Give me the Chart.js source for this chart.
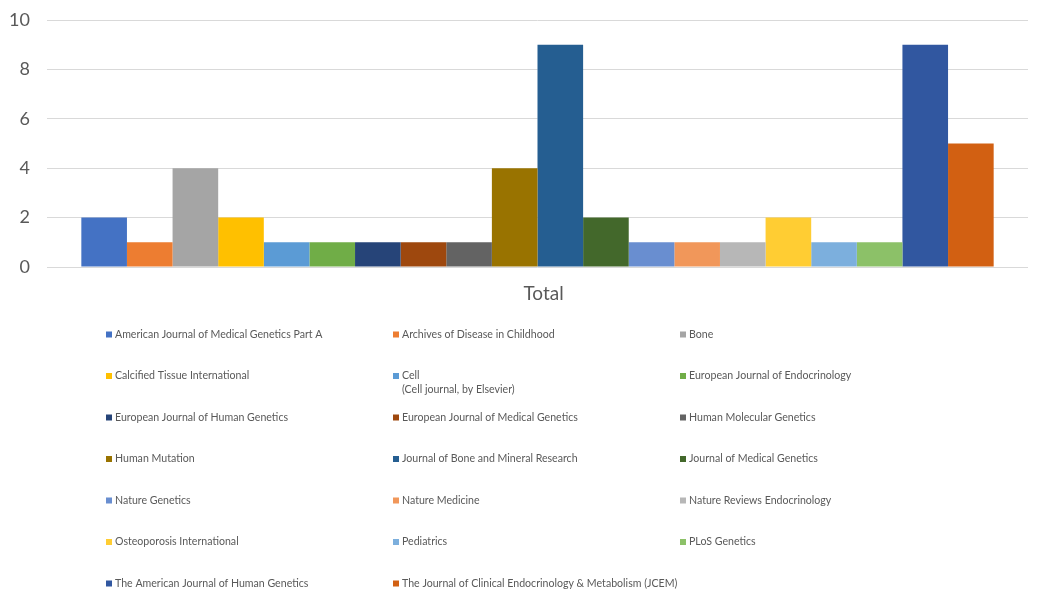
<!DOCTYPE html>
<html>
<head>
<meta charset="utf-8">
<script src="https://cdn.jsdelivr.net/npm/chart.js@4/dist/chart.umd.min.js"></script>
<style>
html,body{margin:0;padding:0;background:#fff;}
#wrap{position:relative;width:1057px;height:595px;}
</style>
</head>
<body>
<div id="wrap"><canvas id="c"></canvas></div>
<script>
const categories = ["Total"];
const journals = [
  "American Journal of Medical Genetics Part A",
  "Archives of Disease in Childhood",
  "Bone",
  "Calcified Tissue International",
  ["Cell", "(Cell journal, by Elsevier)"],
  "European Journal of Endocrinology",
  "European Journal of Human Genetics",
  "European Journal of Medical Genetics",
  "Human Molecular Genetics",
  "Human Mutation",
  "Journal of Bone and Mineral Research",
  "Journal of Medical Genetics",
  "Nature Genetics",
  "Nature Medicine",
  "Nature Reviews Endocrinology",
  "Osteoporosis International",
  "Pediatrics",
  "PLoS Genetics",
  "The American Journal of Human Genetics",
  "The Journal of Clinical Endocrinology & Metabolism (JCEM)"
];
const counts = [2, 1, 4, 2, 1, 1, 1, 1, 1, 4, 9, 2, 1, 1, 1, 2, 1, 1, 9, 5];
const colors = [
  "#4472C4", "#ED7D31", "#A5A5A5", "#FFC000", "#5B9BD5", "#70AD47",
  "#264478", "#9E480E", "#636363", "#997300", "#255E91", "#43682B",
  "#698ED0", "#F1975A", "#B7B7B7", "#FFCD33", "#7CAFDD", "#8CC168",
  "#3157A0", "#D26012"
];
const yTicks = [0, 2, 4, 6, 8, 10];

const FONT = "Lato, 'Open Sans', sans-serif";

const datasets = journals.map((name, i) => ({
  label: Array.isArray(name) ? name.join(" ") : name,
  legendLines: Array.isArray(name) ? name : [name],
  data: [counts[i]],
  backgroundColor: colors[i],
  borderWidth: 0,
  barPercentage: 1.0,
  categoryPercentage: 0.93
}));

const gridLegend = {
  id: 'gridLegend',
  afterDraw(chart) {
    const ctx = chart.ctx;
    const colX = [106, 393, 680];
    const rowY0 = 334.5, rowStep = 41.5;
    ctx.save();
    ctx.font = "10.6px " + FONT;
    ctx.textBaseline = 'middle';
    ctx.textAlign = 'left';
    chart.data.datasets.forEach((ds, i) => {
      const col = i % 3, row = Math.floor(i / 3);
      const x = colX[col];
      const y = rowY0 + row * rowStep;
      ctx.fillStyle = ds.backgroundColor;
      ctx.fillRect(x, y - 3, 6, 6);
      ctx.fillStyle = '#595959';
      ds.legendLines.forEach((line, k) => {
        ctx.fillText(line, x + 9, y + k * 14);
      });
    });
    ctx.restore();
  }
};

new Chart(document.getElementById('c'), {
  type: 'bar',
  data: { labels: categories, datasets: datasets },
  plugins: [gridLegend],
  options: {
    responsive: true,
    maintainAspectRatio: false,
    animation: false,
    layout: { padding: { top: 20, bottom: 288, left: 0, right: 29 } },
    plugins: {
      legend: { display: false },
      tooltip: { enabled: false }
    },
    scales: {
      x: {
        grid: { display: false, drawTicks: false },
        border: { display: false },
        ticks: { color: '#595959', font: { family: FONT, size: 19 }, padding: 15, labelOffset: 6 },
        afterFit(s) { s.height = 40; s.paddingLeft = 0; s.paddingRight = 0; }
      },
      y: {
        min: 0, max: 10,
        afterBuildTicks(s) { s.ticks = yTicks.map(v => ({ value: v })); },
        grid: { color: '#d9d9d9', lineWidth: 1, drawTicks: false },
        border: { display: false },
        ticks: { color: '#595959', font: { family: FONT, size: 18 }, padding: 17 },
        afterFit(s) { s.width = 47; s.paddingTop = 0; s.paddingBottom = 0; }
      }
    }
  }
});
</script>
</body>
</html>
